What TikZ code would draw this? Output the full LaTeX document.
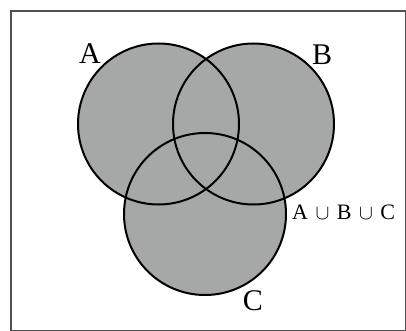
\documentclass[tikz,border=0pt]{standalone}
\usepackage{fontspec}
\setmainfont{Liberation Serif}
\definecolor{vfill}{HTML}{A6A8A7}
\definecolor{frame}{HTML}{505050}
\begin{document}
\begin{tikzpicture}[x=1pt,y=-1pt,
  setcircle/.style={draw=black,line width=2pt},
  setlabel/.style={font=\fontsize{30}{30}\selectfont,inner sep=0pt},
  unionlabel/.style={font=\fontsize{22}{22}\selectfont,inner sep=0pt,anchor=west}]
\useasboundingbox (0,0) rectangle (406,331);
\node[draw=frame,line width=2pt,minimum width=395pt,minimum height=320pt,inner sep=0pt,anchor=north west] (frame) at (10,10) {};
% fills
\fill[vfill] (158.5,124) circle (80.5);
\fill[vfill] (253.5,124) circle (80.5);
\fill[vfill] (205,214) circle (81);
% outlines
\node[setcircle,circle,minimum size=161pt,inner sep=0pt] (A) at (158.5,124) {};
\node[setcircle,circle,minimum size=161pt,inner sep=0pt] (B) at (253.5,124) {};
\node[setcircle,circle,minimum size=162pt,inner sep=0pt] (C) at (205,214) {};
% labels
\node[setlabel] (la) at (90,54) {A};
\node[setlabel] (lb) at (322,55) {B};
\node[setlabel] (lc) at (253,301) {C};
\node[unionlabel] (lu) at (292,212) {A\hspace{7.5pt}$\cup$\hspace{7.5pt}B\hspace{7.5pt}$\cup$\hspace{7.5pt}C};
\end{tikzpicture}
\end{document}
